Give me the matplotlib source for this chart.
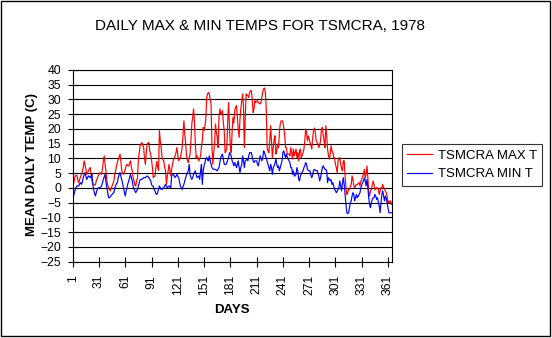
import numpy as np
import matplotlib
matplotlib.use("Agg")
import matplotlib.pyplot as plt
from matplotlib.patches import Rectangle

plt.rcParams["font.family"] = ["Liberation Sans", "DejaVu Sans"]

# daily maximum temperature (C), days 1..365
max_t = [
    0.5, 1.5, 3.0, 4.1, 4.3, 4.0, 2.5, 1.8, 3.0, 3.8,
    4.6, 5.5, 6.9, 9.2, 8.0, 6.5, 4.6, 5.2, 5.8, 6.5,
    6.9, 4.5, 2.4, 1.5, 1.2, 1.0, 1.2, 2.5, 3.2, 4.1,
    4.5, 5.2, 5.0, 4.6, 6.5, 9.2, 10.9, 8.0, 5.8, 2.4,
    1.0, 0.1, -0.5, -1.0, 0.0, 0.7, 1.5, 2.4, 4.5, 5.8,
    7.5, 8.6, 9.8, 10.5, 11.5, 9.0, 5.8, 5.0, 4.6, 5.5,
    6.3, 7.5, 8.0, 7.5, 7.5, 8.5, 9.2, 7.0, 5.8, 3.5,
    2.4, 1.0, 0.7, 2.5, 3.5, 9.8, 12.0, 14.3, 15.0, 15.4,
    14.5, 13.7, 10.0, 8.0, 12.0, 14.9, 15.2, 15.4, 12.5, 11.5,
    9.5, 6.9, 3.5, 4.0, 4.0, 7.0, 9.0, 7.0, 6.0, 19.4,
    16.0, 13.7, 10.3, 9.5, 9.2, 7.0, 5.8, 1.2, 4.0, 5.8,
    8.0, 6.0, 4.1, 6.5, 8.0, 9.5, 10.3, 10.9, 12.0, 13.7,
    11.0, 9.2, 9.8, 10.3, 12.0, 13.7, 18.3, 22.8, 18.0, 14.9,
    11.0, 9.2, 8.6, 10.0, 11.5, 16.0, 21.7, 24.0, 26.8, 22.8,
    15.0, 10.3, 10.9, 10.0, 9.2, 10.0, 10.9, 14.0, 16.0, 20.5,
    19.4, 21.0, 23.4, 30.7, 31.9, 32.4, 31.9, 30.0, 28.5, 13.7,
    8.0, 12.0, 14.9, 21.7, 19.0, 17.1, 13.7, 23.9, 26.8, 25.1,
    25.5, 26.2, 22.2, 19.4, 12.0, 12.5, 13.7, 22.8, 29.0, 20.5,
    14.0, 12.0, 19.0, 24.0, 22.0, 26.2, 27.3, 27.9, 24.0, 20.0,
    17.1, 23.4, 27.0, 29.6, 31.9, 27.9, 13.7, 23.9, 31.9, 31.5,
    31.3, 30.7, 32.4, 33.0, 33.0, 30.0, 25.6, 26.8, 29.6, 29.0,
    29.3, 29.6, 29.0, 28.7, 28.5, 29.0, 30.7, 32.5, 33.6, 33.9,
    32.4, 26.8, 13.7, 12.5, 12.0, 16.0, 21.1, 16.0, 10.3, 13.7,
    16.5, 17.7, 11.5, 12.6, 14.9, 13.7, 18.8, 21.7, 22.8, 22.8,
    22.5, 20.5, 18.3, 13.7, 13.7, 11.5, 11.5, 11.5, 10.9, 13.7,
    12.0, 9.8, 13.2, 10.9, 12.0, 13.2, 10.3, 12.0, 9.2, 12.6,
    13.2, 10.3, 11.0, 12.0, 13.2, 16.0, 20.0, 18.8, 16.0, 17.7,
    16.5, 15.4, 14.3, 13.2, 17.0, 19.4, 20.3, 18.8, 16.0, 15.4,
    15.0, 13.7, 14.5, 16.0, 20.0, 20.5, 18.0, 16.0, 13.7, 21.1,
    17.7, 13.2, 11.0, 9.8, 11.5, 14.3, 12.6, 12.0, 10.3, 10.3,
    8.0, 6.9, 5.2, 9.2, 9.8, 10.3, 8.0, 6.5, 5.8, 9.2,
    9.2, 4.1, 0.1, -2.2, -1.6, -0.5, -0.5, 0.5, 1.2, 4.1,
    2.9, 0.7, 0.1, 0.7, 1.2, 1.2, 1.5, 1.8, 0.7, 2.4,
    2.9, 4.0, 4.6, 6.3, 3.5, 4.6, 7.5, 3.5, -1.6, -2.7,
    -1.0, -0.5, 1.0, 2.4, 1.2, -0.5, -0.5, 0.1, 0.1, -0.5,
    -2.2, -1.0, 0.1, 0.1, 1.2, 0.1, -0.5, -1.0, -1.6, -2.7,
    -5.0, -4.4, -5.0, -4.4, -5.6,
]

# daily minimum temperature (C), days 1..365
min_t = [
    -3.0, -2.7, -1.5, -0.5, 0.3, 0.7, 0.7, 0.7, 1.5, 1.8,
    1.2, 2.0, 3.5, 4.5, 5.2, 4.0, 2.9, 3.5, 4.1, 3.8,
    3.5, 4.0, 4.6, 1.0, -0.5, -2.0, -2.7, -1.5, -0.5, 0.0,
    0.1, 0.1, 0.4, 0.7, 1.8, 2.9, 3.8, 4.6, 2.0, 0.1,
    -1.5, -3.3, -3.3, -3.0, -2.5, -2.2, -1.8, -1.6, 0.0, 0.7,
    1.5, 1.8, 3.5, 4.5, 5.2, 4.0, 2.9, 1.5, 0.1, -1.5,
    -2.7, -1.0, 0.1, 1.5, 2.4, 3.5, 4.6, 3.5, 2.4, 0.5,
    -0.5, -1.0, -1.6, -1.0, -0.5, 0.7, 1.8, 2.9, 2.9, 2.9,
    3.2, 3.5, 3.5, 3.5, 3.8, 4.1, 3.8, 3.5, 3.0, 2.5,
    1.2, 0.7, 0.5, -0.5, -1.0, -2.0, -2.2, -1.5, -0.5, 0.7,
    0.1, -0.5, -0.5, 0.0, 0.1, 0.7, 1.2, 0.5, 0.1, 0.5,
    0.7, 0.3, 0.1, 4.1, 4.5, 4.6, 4.0, 3.5, 4.0, 4.6,
    4.0, 3.5, 2.0, 0.7, 0.0, -0.5, 0.5, 1.2, 2.5, 3.5,
    4.5, 5.2, 5.8, 8.0, 4.6, 3.5, 2.9, 3.5, 4.6, 5.2,
    5.8, 4.5, 3.5, 3.8, 4.1, 2.9, 5.8, 8.0, 1.2, 5.8,
    7.5, 8.6, 9.8, 10.3, 9.5, 9.2, 10.9, 9.2, 8.0, 6.9,
    6.5, 6.3, 6.3, 6.3, 6.0, 5.8, 6.5, 6.9, 8.6, 10.3,
    11.0, 11.5, 9.8, 8.0, 8.0, 8.0, 8.6, 9.5, 10.3, 12.0,
    11.5, 10.9, 9.2, 8.5, 7.5, 8.6, 8.0, 6.9, 8.0, 9.2,
    6.9, 5.2, 7.0, 8.0, 10.9, 9.2, 6.9, 9.2, 9.5, 9.8,
    9.2, 10.9, 12.0, 12.0, 12.0, 10.5, 9.2, 8.6, 9.2, 9.2,
    9.2, 8.0, 7.5, 9.2, 10.9, 10.0, 9.2, 10.3, 12.6, 12.0,
    10.9, 10.3, 9.0, 8.0, 6.9, 5.8, 8.0, 6.9, 4.6, 6.9,
    7.5, 8.5, 9.8, 8.0, 6.9, 7.5, 5.8, 6.9, 8.0, 9.2,
    12.0, 12.6, 11.5, 10.3, 11.5, 10.5, 9.8, 9.2, 8.6, 6.9,
    6.9, 4.6, 5.8, 4.1, 4.1, 4.6, 6.9, 5.8, 2.9, 2.4,
    4.1, 4.6, 5.5, 5.8, 6.9, 7.5, 8.6, 8.0, 6.3, 6.0,
    5.8, 5.8, 4.3, 3.5, 4.4, 6.0, 6.3, 6.0, 5.8, 6.0,
    5.2, 4.1, 2.4, 3.5, 5.2, 6.9, 7.5, 6.9, 6.3, 6.3,
    5.8, 1.8, 3.5, 2.9, 2.4, 2.9, 1.2, 1.8, 0.7, -0.5,
    -1.0, -1.6, -1.0, -0.5, 0.1, 2.4, 0.7, -1.0, 1.5, 3.5,
    1.2, -2.2, -5.6, -8.4, -8.7, -8.4, -6.7, -5.0, -4.4, -2.7,
    -1.6, -2.2, -4.4, -3.3, -2.2, -3.3, -2.8, -2.2, -1.6, 0.1,
    1.0, 1.8, 2.4, 3.5, 2.4, 0.7, 2.9, 0.1, -3.3, -5.6,
    -6.7, -5.0, -4.0, -3.3, -3.3, -2.2, -2.7, -3.9, -3.3, -5.0,
    -6.1, -8.4, -5.0, -2.2, -1.0, -2.7, -4.4, -2.7, -3.5, -5.0,
    -6.7, -8.4, -8.4, -8.4, -8.4,
]

day_ticks = list(range(1, 366, 30))
temp_ticks = list(range(-25, 41, 5))

W, H = 552, 338
fig = plt.figure(figsize=(W / 100, H / 100), dpi=100)
ax = fig.add_axes([72.7 / W, 1 - 261.7 / H, (391.5 - 72.7) / W, (261.7 - 70) / H])

days_max = np.arange(1, len(max_t) + 1)
days_min = np.arange(1, len(min_t) + 1)
ax.plot(days_max, max_t, color="#ff0000", lw=0.85, label="TSMCRA MAX T")
ax.plot(days_min, min_t, color="#0000ff", lw=0.85, label="TSMCRA MIN T")

ax.set_xlim(1, 365)
ax.set_ylim(-25, 40)
ax.set_yticks(temp_ticks)
ax.set_xticks(day_ticks)
ax.set_xticklabels([str(d) for d in day_ticks], rotation=90)
ax.tick_params(axis="both", direction="inout", length=7, width=0.8,
               labelsize=8.7, color="black")
ax.tick_params(axis="y", pad=5)
ax.tick_params(axis="x", pad=6)
ax.grid(axis="y", color="black", lw=0.8)
ax.set_axisbelow(True)
for s in ax.spines.values():
    s.set_color("black")
    s.set_linewidth(0.8)

fig.text(260 / W, 1 - 26 / H, "DAILY MAX & MIN TEMPS FOR TSMCRA, 1978",
         ha="center", va="center", fontsize=11)
fig.text(232 / W, 1 - 309.7 / H, "DAYS", ha="center", va="center",
         fontsize=9.5, fontweight="bold")
fig.text(32 / W, 1 - 165 / H, "MEAN DAILY TEMP (C)", ha="center", va="center",
         rotation=90, fontsize=9.5, fontweight="bold")

leg = fig.legend(loc="upper left", bbox_to_anchor=(402 / W, 1 - 144 / H),
                 fontsize=9.5, frameon=True, fancybox=False, shadow=False,
                 handlelength=1.9, handletextpad=0.4, borderpad=0.4,
                 labelspacing=0.5, borderaxespad=0)
leg.get_frame().set_edgecolor("black")
leg.get_frame().set_linewidth(0.8)

fig.patches.append(Rectangle((0.5 / W, 1 - 335.5 / H), 549 / W, 335 / H,
                             transform=fig.transFigure, fill=False,
                             edgecolor="black", lw=1.0))

fig.savefig("out.png", dpi=100)
